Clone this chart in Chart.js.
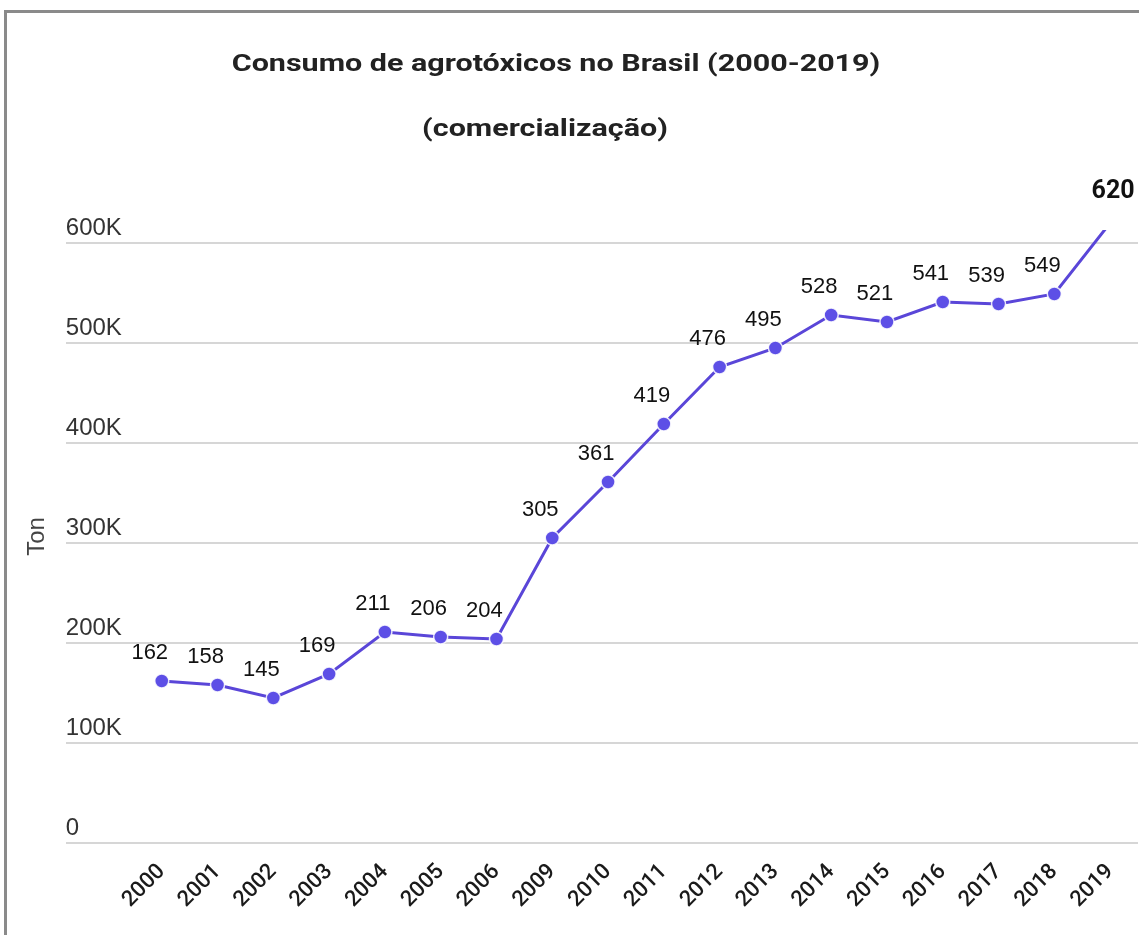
<!DOCTYPE html>
<html>
<head>
<meta charset="utf-8">
<title>Consumo de agrotóxicos no Brasil (2000-2019)</title>
<script src="https://cdn.jsdelivr.net/npm/chart.js@4/dist/chart.umd.min.js"></script>
<style>
  html, body { margin: 0; padding: 0; background: #fff; }
  #wrap { position: relative; width: 1139px; height: 935px; overflow: hidden; background: #fff; }
  #c { position: absolute; left: 0; top: 0; }
  .frame-l { position: absolute; left: 4px; top: 10px; width: 3px; height: 925px; background: #8a8a8a; }
  .frame-t { position: absolute; left: 4px; top: 10px; width: 1135px; height: 3px; background: #8a8a8a; }
</style>
</head>
<body>
<div id="wrap">
  <canvas id="c" width="1139" height="935"></canvas>
  <div class="frame-l"></div>
  <div class="frame-t"></div>
</div>
<script>
// Anos com dados de comercialização (2007 e 2008 não constam)
const years = ['2000', '2001', '2002', '2003', '2004', '2005', '2006', '2009', '2010',
               '2011', '2012', '2013', '2014', '2015', '2016', '2017', '2018', '2019'];

// Consumo em mil toneladas
const consumoMil = [162, 158, 145, 169, 211, 206, 204, 305, 361,
                    419, 476, 495, 528, 521, 541, 539, 549, 620];

// Marcas do eixo vertical (mil toneladas)
const yTickValues = [0, 100, 200, 300, 400, 500, 600];

const titleLines = ['Consumo de agrotóxicos no Brasil (2000-2019)', '(comercialização)'];
const yAxisTitle = 'Ton';

const LINE = '#5a46d8';
const POINT = '#5d4fe6';

// Títulos e rótulos de valor desenhados sobre o gráfico
const annotate = {
  id: 'annotate',
  afterDatasetsDraw(chart) {
    const { ctx } = chart;
    const meta = chart.getDatasetMeta(0);
    const yMax = chart.scales.y.max;
    ctx.save();
    ctx.textAlign = 'center';
    ctx.textBaseline = 'middle';
    ctx.fillStyle = '#111';
    meta.data.forEach((pt, i) => {
      const v = consumoMil[i];
      if (v > yMax) {
        ctx.font = 'bold 25px Roboto, "Liberation Sans", sans-serif';
        ctx.fillText(String(v), pt.x + 3, pt.y - 31);
      } else {
        ctx.font = '22px "Liberation Sans", Arial, sans-serif';
        ctx.fillText(String(v), pt.x - 12, pt.y - 28);
      }
    });
    ctx.restore();

    // título em fonte larga (esticada na horizontal)
    ctx.save();
    ctx.fillStyle = '#222';
    ctx.textAlign = 'center';
    ctx.textBaseline = 'middle';
    ctx.font = 'bold 24px Roboto, "Liberation Sans", sans-serif';
    const sx = 1.27;
    ctx.scale(sx, 1);
    ctx.fillText(titleLines[0], 556 / sx, 65);
    ctx.fillText(titleLines[1], 545 / sx, 130);
    ctx.restore();
  }
};

new Chart(document.getElementById('c'), {
  type: 'line',
  data: {
    datasets: [{
      data: consumoMil.map((v, i) => ({ x: i, y: v })),
      borderColor: LINE,
      borderWidth: 3,
      backgroundColor: POINT,
      pointBackgroundColor: POINT,
      pointBorderColor: 'rgba(255,255,255,0.85)',
      pointBorderWidth: 1.5,
      pointRadius: (c) => (c.raw && c.raw.y > c.chart.scales.y.max ? 0 : 7),
      tension: 0,
      fill: false
    }]
  },
  options: {
    responsive: false,
    animation: false,
    devicePixelRatio: 1,
    layout: { autoPadding: false, padding: { left: 23, right: 1, top: 230, bottom: 6 } },
    plugins: {
      legend: { display: false },
      tooltip: { enabled: false },
      title: { display: false }
    },
    scales: {
      x: {
        type: 'linear',
        min: -1.72,
        max: 17.5,
        afterBuildTicks: (s) => { s.ticks = years.map((_, i) => ({ value: i })); },
        afterFit: (s) => { s.paddingLeft = 0; s.paddingRight = 0; },
        grid: { display: false, drawTicks: false },
        border: { display: false },
        ticks: {
          autoSkip: false,
          minRotation: 45,
          maxRotation: 45,
          padding: 16,
          color: '#1a1a1a',
          font: { family: 'Roboto, "Liberation Sans", sans-serif', size: 22, weight: '500' },
          callback: (v, i) => years[i]
        }
      },
      y: {
        min: 0,
        max: 613,
        afterBuildTicks: (s) => { s.ticks = yTickValues.map((v) => ({ value: v })); },
        afterFit: (s) => { s.paddingTop = 0; s.paddingBottom = 0; },
        grid: { color: '#d6d6d6', lineWidth: 2, drawTicks: false, tickLength: 0 },
        border: { display: false },
        title: {
          display: true,
          text: yAxisTitle,
          color: '#444',
          font: { family: '"Liberation Sans", Arial, sans-serif', size: 24 },
          padding: { top: 0, bottom: 14 }
        },
        ticks: {
          mirror: true,
          padding: 0,
          labelOffset: -15,
          color: '#333',
          font: { family: '"Liberation Sans", Arial, sans-serif', size: 24 },
          callback: (v) => (v === 0 ? '0' : v + 'K')
        }
      }
    }
  },
  plugins: [annotate]
});
</script>
</body>
</html>
